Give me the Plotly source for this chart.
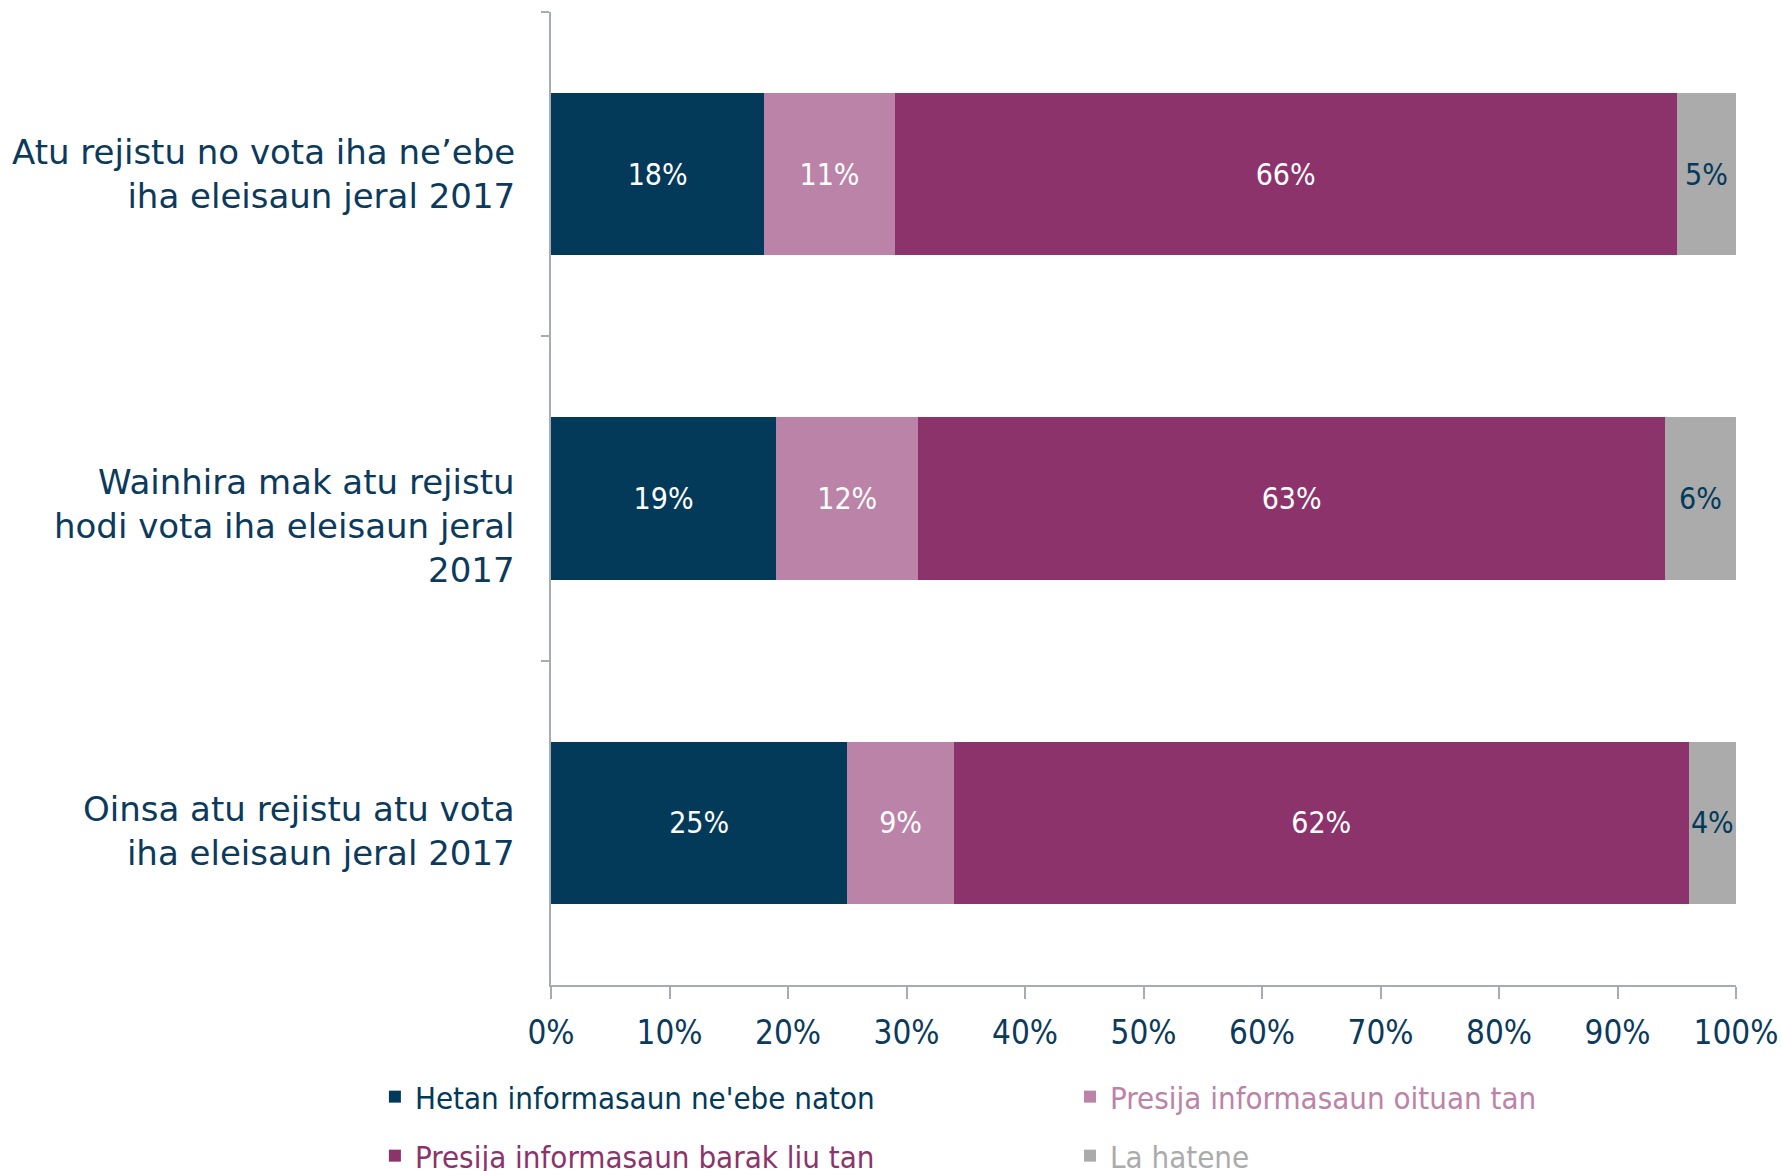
import plotly.graph_objects as go

categories = [
    "Atu rejistu no vota iha ne’ebe<br>iha eleisaun jeral 2017",
    "Wainhira mak atu rejistu<br>hodi vota iha eleisaun jeral<br>2017",
    "Oinsa atu rejistu atu vota<br>iha eleisaun jeral 2017",
]
series_names = [
    "Hetan informasaun ne'ebe naton",
    "Presija informasaun oituan tan",
    "Presija informasaun barak liu tan",
    "La hatene",
]
hetan = [18, 19, 25]
oituan = [11, 12, 9]
barak = [66, 63, 62]
la_hatene = [5, 6, 4]
x_ticks = [0, 10, 20, 30, 40, 50, 60, 70, 80, 90, 100]

colors = ["#033A5A", "#BC83A8", "#8C336C", "#ABABAB"]
text_colors = ["white", "white", "white", "#033A5A"]
values = [hetan, oituan, barak, la_hatene]
legend_ids = ["legend", "legend2", "legend3", "legend4"]
legend_pos = [(0.2105, 1 - 1097 / 1171), (0.6008, 1 - 1097 / 1171),
              (0.2105, 1 - 1156 / 1171), (0.6008, 1 - 1156 / 1171)]
label_yshift = [0, -27, -8]

NAVY = "#0B3A5C"
FONT = "DejaVu Sans"
NARROW = "DejaVu Sans Condensed, DejaVu Sans"

fig = go.Figure()
for name, vals, c, tc, lg in zip(series_names, values, colors, text_colors, legend_ids):
    fig.add_trace(go.Bar(
        y=categories, x=vals, orientation="h",
        name=f"<span style='color:{c}'>{name}</span>",
        marker=dict(color=c, line=dict(width=0)),
        text=vals, texttemplate="%{x}%", textposition="inside",
        insidetextanchor="middle", textangle=0, constraintext="none",
        textfont=dict(color=tc, size=30, family=NARROW),
        legend=lg,
    ))

legend_layout = {}
for lg, (lx, ly) in zip(legend_ids, legend_pos):
    legend_layout[lg] = dict(
        orientation="h", xref="container", yref="container",
        x=lx, y=ly, xanchor="left", yanchor="middle",
        font=dict(size=31, family=NARROW),
        bgcolor="rgba(0,0,0,0)",
    )

for cat, ys in zip(categories, label_yshift):
    fig.add_annotation(
        xref="paper", yref="y", x=0, y=cat, xanchor="right", yanchor="middle",
        xshift=-34, yshift=ys, text=cat, align="right", showarrow=False,
        font=dict(size=34, family=FONT, color=NAVY),
    )

fig.update_layout(
    barmode="stack",
    bargap=0.5,
    showlegend=True,
    width=1781, height=1171,
    margin=dict(l=551, r=45, t=12, b=186, autoexpand=False),
    paper_bgcolor="white", plot_bgcolor="white",
    font=dict(family=FONT, color=NAVY),
    **legend_layout,
)
fig.update_xaxes(
    range=[0, 100], tickvals=x_ticks, ticktext=[f"{v}%" for v in x_ticks],
    showgrid=False, zeroline=False, showline=True, linecolor="#A7ACB4", linewidth=1.5,
    ticks="outside", ticklen=12, tickcolor="#A7ACB4", tickwidth=1.5,
    tickfont=dict(size=33, color=NAVY, family=NARROW),
    ticklabelstandoff=6, automargin=False,
)
fig.update_yaxes(
    autorange="reversed", showgrid=False, showline=True, linecolor="#A7ACB4", linewidth=1.5,
    ticks="outside", ticklen=8, tickcolor="#A7ACB4", tickwidth=1.5,
    tickson="boundaries", showticklabels=False, automargin=False,
)

fig.write_html("out.html", config={"displayModeBar": False},
               post_script="document.body.style.margin='0';")
